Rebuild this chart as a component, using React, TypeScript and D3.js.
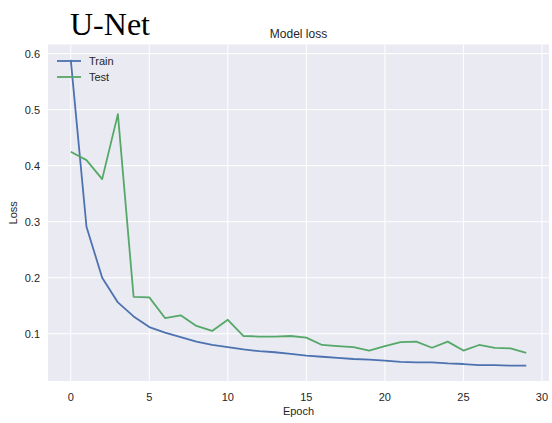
import React from "react";
import * as d3 from "d3";

const epochs = d3.range(0, 30);
const trainLoss = [0.589, 0.291, 0.2, 0.156, 0.131, 0.112, 0.102, 0.094, 0.086, 0.08, 0.076, 0.072, 0.069, 0.067, 0.064, 0.061, 0.059, 0.057, 0.055, 0.054, 0.052, 0.05, 0.049, 0.049, 0.047, 0.046, 0.044, 0.044, 0.043, 0.043];
const testLoss = [0.425, 0.41, 0.376, 0.492, 0.166, 0.165, 0.128, 0.133, 0.114, 0.105, 0.125, 0.096, 0.095, 0.095, 0.096, 0.093, 0.08, 0.078, 0.076, 0.07, 0.078, 0.085, 0.086, 0.075, 0.086, 0.07, 0.08, 0.075, 0.074, 0.066];
const xTicks = [0, 5, 10, 15, 20, 25, 30];
const yTicks = [0.1, 0.2, 0.3, 0.4, 0.5, 0.6];
const seriesNames = ["Train", "Test"];
const colors = ["#4C72B0", "#55A868"];

const W = 552, H = 423;
const left = 48, right = 549, top = 44.5, bottom = 381;
const font = "'Liberation Sans', Arial, sans-serif";
const textColor = "#262626";

export default function App() {
  const allVals = [...trainLoss, ...testLoss];
  const ymin = d3.min(allVals)!, ymax = d3.max(allVals)!;
  const ym = (ymax - ymin) * 0.05;
  const x = d3.scaleLinear().domain([-1.45, 30.45]).range([left, right]);
  const y = d3.scaleLinear().domain([ymin - ym, ymax + ym]).range([bottom, top]);
  const line = d3.line<number>().x((_, i) => x(epochs[i])).y((d) => y(d));
  const series = [trainLoss, testLoss];
  return (
    <svg width={W} height={H} style={{ position: "absolute", left: 0, top: 0 }}>
      <rect width={W} height={H} fill="#fff" />
      <text x={70} y={35} fontFamily="'Liberation Serif', 'Times New Roman', serif" fontSize={32} fill="#000">U-Net</text>
      <rect x={left} y={top} width={right - left} height={bottom - top} fill="#EAEAF2" />
      {xTicks.map((t) => (
        <line key={"gx" + t} x1={x(t)} x2={x(t)} y1={top} y2={bottom} stroke="#fff" strokeWidth={1} />
      ))}
      {yTicks.map((t) => (
        <line key={"gy" + t} x1={left} x2={right} y1={y(t)} y2={y(t)} stroke="#fff" strokeWidth={1} />
      ))}
      {series.map((s, i) => (
        <path key={i} d={line(s)!} fill="none" stroke={colors[i]} strokeWidth={1.8} strokeLinejoin="round" />
      ))}
      {xTicks.map((t) => (
        <text key={"tx" + t} x={x(t)} y={401} textAnchor="middle" fontFamily={font} fontSize={11} fill={textColor}>{t}</text>
      ))}
      {yTicks.map((t) => (
        <text key={"ty" + t} x={40} y={y(t) + 4} textAnchor="end" fontFamily={font} fontSize={11} fill={textColor}>{t.toFixed(1)}</text>
      ))}
      <text x={(left + right) / 2} y={38} textAnchor="middle" fontFamily={font} fontSize={12} fill={textColor}>Model loss</text>
      <text x={(left + right) / 2} y={415} textAnchor="middle" fontFamily={font} fontSize={11} fill={textColor}>Epoch</text>
      <text transform={`translate(17,${(top + bottom) / 2}) rotate(-90)`} textAnchor="middle" fontFamily={font} fontSize={11} fill={textColor}>Loss</text>
      {seriesNames.map((n, i) => (
        <g key={n}>
          <line x1={57} x2={81} y1={61 + i * 16} y2={61 + i * 16} stroke={colors[i]} strokeWidth={1.8} />
          <text x={89} y={65 + i * 16} fontFamily={font} fontSize={11} fill={textColor}>{n}</text>
        </g>
      ))}
    </svg>
  );
}
